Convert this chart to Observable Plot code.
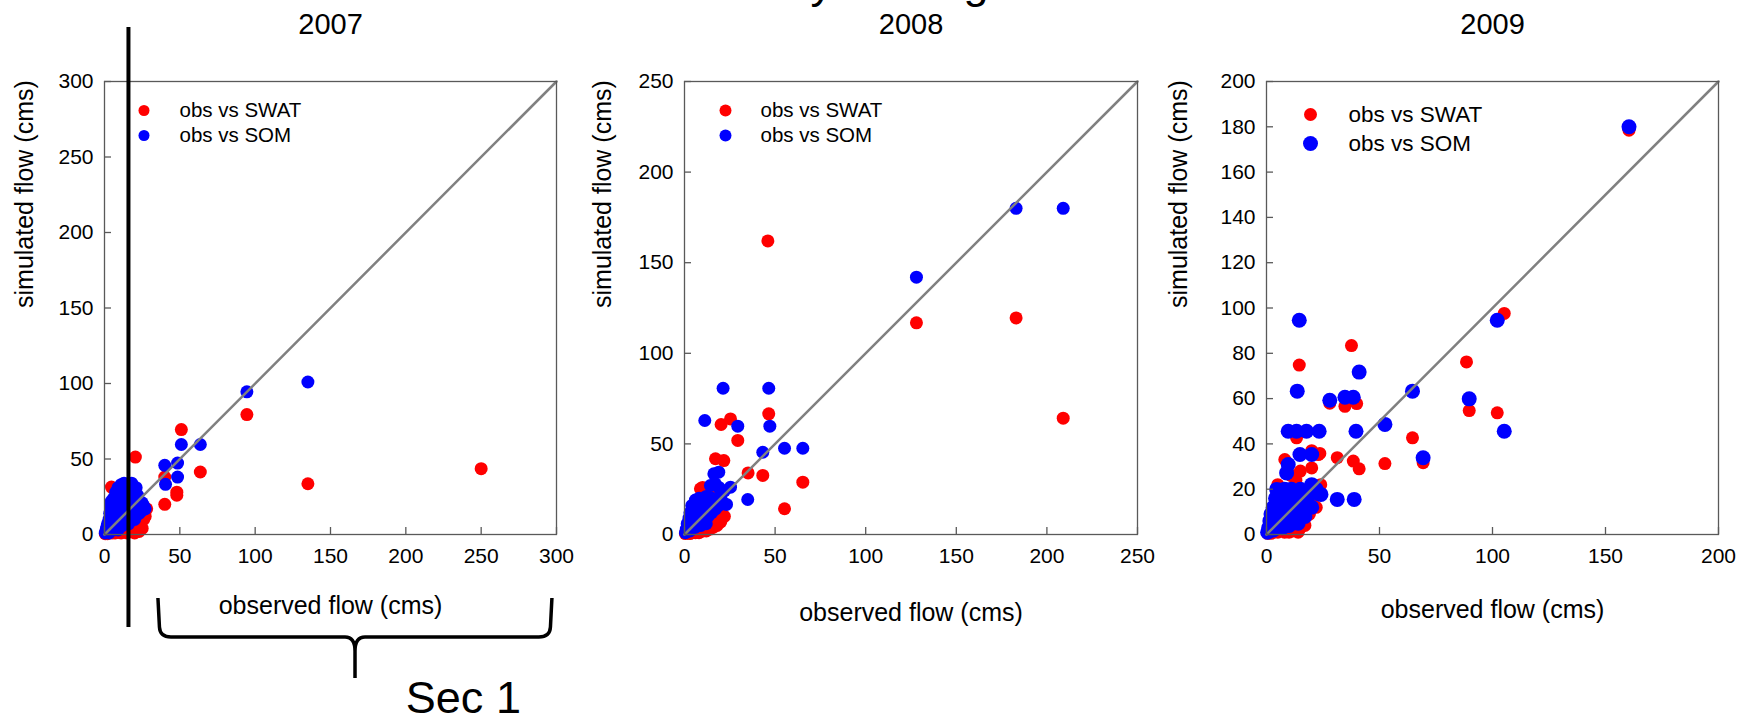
<!DOCTYPE html>
<html>
<head>
<meta charset="utf-8">
<script src="https://cdn.jsdelivr.net/npm/d3@7"></script>
<script src="https://cdn.jsdelivr.net/npm/@observablehq/plot@0.6"></script>
<style>
  html, body { margin: 0; padding: 0; background: #fff; }
  #page { position: relative; width: 1750px; height: 715px; overflow: hidden; background: #fff; }
  #page svg { position: absolute; top: 0; overflow: visible; }
</style>
</head>
<body>
<div id="page"></div>
<script>
// ---------------- data ----------------
const panelTitles = ["2007", "2008", "2009"];
const axisMax = [300, 250, 200];
const xTicks2007 = [0, 50, 100, 150, 200, 250, 300];
const yTicks2007 = [0, 50, 100, 150, 200, 250, 300];
const xTicks2008 = [0, 50, 100, 150, 200, 250];
const yTicks2008 = [0, 50, 100, 150, 200, 250];
const xTicks2009 = [0, 50, 100, 150, 200];
const yTicks2009 = [0, 20, 40, 60, 80, 100, 120, 140, 160, 180, 200];
const seriesNames = ["obs vs SWAT", "obs vs SOM"];
const seriesColors = ["#ff0000", "#0000ff"];
const xLabel = "observed flow (cms)";
const yLabel = "simulated flow (cms)";
const sectionLabel = "Sec 1";
const cutTitleGlyphs = ["y", "g"];

// [observed, simulated]
const swat2007 = [
  [250, 43.6], [135, 33.6], [94.5, 79.4], [51, 69.5], [63.6, 41.4], [20.5, 51.3], [40, 38], [48, 28], [48, 26],
  [40, 20], [4.6, 31.4],
  [0.5, 0.5], [1, 1], [2, 0.5], [2, 3], [3, 1.5], [4, 2], [5, 1], [5, 4], [6, 2.5], [7, 1], [7, 5], [8, 3],
  [9, 1.5], [9, 6], [10, 3], [11, 1], [11, 7], [12, 4], [13, 2], [13, 9], [14, 5], [15, 1], [15, 11], [16, 3],
  [17, 6], [18, 2], [18, 13], [19, 4], [20, 8], [20, 1], [21, 3], [22, 10], [22, 5], [23, 2], [24, 13], [24, 7],
  [25, 4], [26, 10], [26, 15], [27, 12], [28, 17], [19, 16], [14, 18], [10, 14], [8, 10]
];
const som2007 = [
  [135, 101], [94.5, 94.5], [51, 59.6], [63.6, 59.6], [40, 45.8], [48.5, 47.3], [48.5, 38], [40.5, 33.2],
  [0.5, 1], [1, 3], [1.5, 5], [2, 7], [2, 2], [3, 4], [3, 10], [3.5, 14], [4, 8], [4, 19], [4.5, 22], [5, 6],
  [5, 12], [5.5, 16], [6, 3], [6, 24], [7, 9], [7, 20], [7.5, 28], [8, 13], [8, 5], [9, 17], [9, 31], [10, 8],
  [10, 24], [11, 12], [11, 33], [12, 20], [12, 28], [13, 16], [13, 34], [14, 9], [14, 24], [15, 19], [15, 30],
  [16, 13], [16, 33], [17, 22], [17, 27], [18, 16], [18, 34], [19, 20], [19, 29], [20, 15], [20, 24], [21, 31],
  [22, 19], [22, 26], [23, 14], [23, 22], [24, 18], [25, 21], [25, 16], [26, 19], [27, 17], [12, 6], [16, 7],
  [20, 10], [9, 3], [3, 1]
];
const swat2008 = [
  [209, 64.2], [183, 119.5], [128, 116.8], [46, 162], [46.5, 66.6], [20.2, 60.7], [25.4, 63.8], [29.4, 51.9],
  [35.1, 34], [43.2, 32.6], [65.3, 28.9], [55.2, 14.2], [17.1, 41.8], [21.7, 40.8], [8.8, 25.2], [10, 26],
  [0.5, 0.5], [1, 1.5], [2, 1], [3, 2], [3, 0.5], [4, 3], [5, 1.5], [6, 4], [6, 1], [7, 2.5], [8, 5], [8, 1],
  [9, 3], [10, 6], [10, 2], [11, 4], [12, 8], [12, 2], [13, 5], [14, 9], [14, 3], [15, 6], [16, 11], [16, 4],
  [17, 8], [18, 12], [18, 5], [19, 9], [20, 14], [20, 7], [21, 11], [22, 10], [9, 14], [11, 18], [13, 22],
  [7, 12], [5, 8], [15, 25], [18, 25]
];
const som2008 = [
  [209, 180], [183, 180], [128, 142], [21.3, 80.7], [46.5, 80.7], [11.2, 62.9], [29.4, 59.8], [47.1, 59.8],
  [43.2, 45.4], [55.2, 47.6], [65.3, 47.6], [34.9, 19.3], [18.9, 34.4], [16.2, 33.5], [25.4, 26.1], [14.3, 27],
  [23.2, 16.6],
  [0.5, 1], [1, 3], [1.5, 6], [2, 2], [2.5, 9], [3, 5], [3, 12], [4, 8], [4, 16], [5, 4], [5, 11], [6, 14],
  [6, 19], [7, 7], [7, 17], [8, 10], [8, 20], [9, 13], [9, 18], [10, 8], [10, 16], [11, 19], [11, 12], [12, 15],
  [12, 21], [13, 10], [13, 18], [14, 14], [15, 20], [15, 12], [16, 17], [17, 14], [18, 19], [19, 16], [20, 22],
  [21, 18], [22, 24], [17, 28], [19, 26], [3, 2], [6, 4], [9, 5], [12, 6]
];
const swat2009 = [
  [160.4, 178.5], [37.6, 83.4], [14.5, 74.8], [34.7, 56.6], [39.9, 57.8], [28, 58], [88.5, 76.2], [89.7, 54.7],
  [105.2, 97.6], [102.1, 53.7], [64.6, 42.7], [69.3, 31.7], [52.4, 31.3], [38.4, 32.4], [41, 29], [13.3, 42.7],
  [23.6, 35.8], [20, 37], [31.3, 33.9], [8.1, 33.1], [20, 29.4], [17.7, 8.1], [22.9, 35.3], [11.4, 1.5],
  [0.5, 0.5], [1, 1], [2, 0.5], [2, 2], [3, 1], [4, 3], [5, 1], [5, 5], [6, 2], [7, 4], [8, 1], [8, 7], [9, 3],
  [10, 5], [10, 1], [11, 8], [11, 2], [12, 4], [13, 10], [14, 6], [14, 1], [15, 3], [16, 12], [16, 7], [17, 4],
  [18, 14], [19, 9], [20, 16], [21, 19], [22, 12], [24, 22], [13, 24], [11, 26], [15, 28], [7, 14], [5, 22], [9, 20]
];
const som2009 = [
  [160.4, 180], [14.5, 94.6], [41, 71.7], [13.6, 63.3], [28, 59.3], [34.7, 60.6], [38.4, 60.6], [64.6, 63.3],
  [89.7, 59.9], [102.1, 94.6], [105.2, 45.6], [52.4, 48.6], [69.3, 33.9], [39.6, 45.6], [9.6, 45.6], [13.3, 45.6],
  [17.7, 45.6], [23.3, 45.6], [14.8, 35.3], [20, 35.3], [9.6, 30.9], [8.9, 27.2], [24.1, 17.7], [31.3, 15.5],
  [38.8, 15.5],
  [0.5, 1], [1, 3], [1.5, 6], [2, 2], [2, 9], [3, 5], [3, 12], [4, 8], [4, 16], [4.5, 19.9], [5, 4], [5, 11],
  [6, 14], [6, 19.5], [7, 7], [7, 17], [8, 10], [8, 20], [9, 13], [9, 19.5], [10, 8], [10, 16], [11, 12], [11, 20],
  [12, 15], [12, 6], [13, 10], [13, 18], [14, 14], [15, 11], [15, 20], [16, 17], [17, 13], [18, 16], [19, 19],
  [20, 12], [20, 22], [22, 20], [23, 18], [3, 2], [7, 3], [10, 4], [14, 5], [17, 8]
];

// annotations (in 2007 panel data units)
const markerLineX = 15.9;
const markerLineY = [335.8, -61.6];
const braceX = [35.8, 297.3];
const braceTipX = 166.6;
const braceY = [-42.4, -68.2, -95.4];
const sectionLabelAt = [200, -118.5];

// ---------------- drawing ----------------
const FONT = "'Liberation Sans', Arial, Helvetica, sans-serif";
const FRAME = "#595959";
const H = 715, TOP = 81, BOTTOM = 181;

const panels = [
  {title: panelTitles[0], max: axisMax[0], xTicks: xTicks2007, yTicks: yTicks2007, swat: swat2007, som: som2007,
   left: 0, width: 580, mL: 104, mR: 24, rRed: 6.5, rBlue: 6.5, xLabBase: 613, yLabDx: -72,
   legDotDx: 39.5, legTextDx: 75, legDy: [29, 54], legR: [5.5, 5.5], legFont: 20.5},
  {title: panelTitles[1], max: axisMax[1], xTicks: xTicks2008, yTicks: yTicks2008, swat: swat2008, som: som2008,
   left: 580, width: 580, mL: 104, mR: 23, rRed: 6.5, rBlue: 6.5, xLabBase: 620, yLabDx: -74,
   legDotDx: 41, legTextDx: 76, legDy: [29, 54], legR: [6, 6], legFont: 20.5},
  {title: panelTitles[2], max: axisMax[2], xTicks: xTicks2009, yTicks: yTicks2009, swat: swat2009, som: som2009,
   left: 1160, width: 590, mL: 106, mR: 32, rRed: 6.5, rBlue: 7.5, xLabBase: 617, yLabDx: -80,
   legDotDx: 44, legTextDx: 82, legDy: [33, 62], legR: [6.5, 7.5], legFont: 22.5}
];

function makePanel(p, i) {
  const innerW = p.width - p.mL - p.mR;
  const innerH = H - TOP - BOTTOM;
  const marks = [
    Plot.dot(p.swat, {x: d => d[0], y: d => d[1], r: p.rRed, fill: seriesColors[0]}),
    Plot.dot(p.som, {x: d => d[0], y: d => d[1], r: p.rBlue, fill: seriesColors[1]}),
    Plot.line([0, p.max], {x: d => d, y: d => d, stroke: "#808080", strokeWidth: 2.5}),
    Plot.frame({stroke: FRAME, strokeWidth: 1.3}),
    Plot.tickX(p.xTicks, {x: d => d, insetTop: innerH - 7, stroke: FRAME, strokeWidth: 1.3}),
    Plot.tickY(p.yTicks, {y: d => d, insetRight: innerW - 7, stroke: FRAME, strokeWidth: 1.3}),
    Plot.axisX({ticks: p.xTicks, tickSize: 0, tickPadding: 14, fontSize: 21, label: null, fill: "#000"}),
    Plot.axisY({ticks: p.yTicks, tickSize: 0, tickPadding: 11, fontSize: 21, label: null, fill: "#000"}),
    Plot.text([p.title], {text: d => d, frameAnchor: "top", dy: 33 - TOP, lineAnchor: "bottom", fontSize: 29, fill: "#000"}),
    Plot.text([xLabel], {text: d => d, frameAnchor: "bottom", dy: p.xLabBase - (H - BOTTOM), lineAnchor: "bottom", fontSize: 25, fill: "#000"}),
    Plot.text([yLabel], {text: d => d, frameAnchor: "left", dx: p.yLabDx, rotate: -90, lineAnchor: "bottom", fontSize: 25, fill: "#000"}),
    // legend
    Plot.dot([seriesNames[0]], {frameAnchor: "top-left", dx: p.legDotDx, dy: p.legDy[0], r: p.legR[0], fill: seriesColors[0]}),
    Plot.dot([seriesNames[1]], {frameAnchor: "top-left", dx: p.legDotDx, dy: p.legDy[1], r: p.legR[1], fill: seriesColors[1]}),
    Plot.text([seriesNames[0]], {text: d => d, frameAnchor: "top-left", dx: p.legTextDx, dy: p.legDy[0], textAnchor: "start", lineAnchor: "middle", fontSize: p.legFont, fill: "#000"}),
    Plot.text([seriesNames[1]], {text: d => d, frameAnchor: "top-left", dx: p.legTextDx, dy: p.legDy[1], textAnchor: "start", lineAnchor: "middle", fontSize: p.legFont, fill: "#000"})
  ];
  if (i === 0) {
    marks.push(Plot.ruleX([markerLineX], {x: d => d, y1: markerLineY[0], y2: markerLineY[1], stroke: "#000", strokeWidth: 4}));
    marks.push(Plot.text([sectionLabel], {text: d => d, x: sectionLabelAt[0], y: sectionLabelAt[1], textAnchor: "start", lineAnchor: "bottom", fontSize: 45, fill: "#000"}));
  }
  if (i === 1) {
    marks.push(Plot.text([cutTitleGlyphs[0]], {text: d => d, frameAnchor: "top-left", dx: 126, dy: -2.5 - TOP, textAnchor: "start", lineAnchor: "bottom", fontSize: 45, fill: "#000"}));
    marks.push(Plot.text([cutTitleGlyphs[1]], {text: d => d, frameAnchor: "top-left", dx: 279, dy: -2.5 - TOP, textAnchor: "start", lineAnchor: "bottom", fontSize: 45, fill: "#000"}));
  }
  return Plot.plot({
    width: p.width,
    height: H,
    marginLeft: p.mL,
    marginRight: p.mR,
    marginTop: TOP,
    marginBottom: BOTTOM,
    x: {domain: [0, p.max]},
    y: {domain: [0, p.max]},
    style: {fontFamily: FONT, fontSize: "21px", overflow: "visible", background: "transparent", color: "#000"},
    marks
  });
}

const page = document.getElementById("page");
const svgs = panels.map((p, i) => {
  const svg = makePanel(p, i);
  svg.style.left = p.left + "px";
  svg.style.top = "0px";
  page.appendChild(svg);
  return svg;
});

// brace under the 2007 panel, placed through that panel's scales
(function drawBrace() {
  const svg = svgs[0];
  const sx = svg.scale("x"), sy = svg.scale("y");
  const xL = sx.apply(braceX[0]), xR = sx.apply(braceX[1]), xM = sx.apply(braceTipX);
  const yT = sy.apply(braceY[0]), yB = sy.apply(braceY[1]), yTip = sy.apply(braceY[2]);
  const r = 10;
  const p = d3.path();
  p.moveTo(xL, yT);
  p.lineTo(xL + 1.5, yB - r);
  p.quadraticCurveTo(xL + 2, yB, xL + r + 3, yB);
  p.lineTo(xM - r, yB);
  p.quadraticCurveTo(xM, yB, xM, yB + r + 4);
  p.lineTo(xM, yTip);
  p.moveTo(xM, yB + r + 4);
  p.quadraticCurveTo(xM, yB, xM + r, yB);
  p.lineTo(xR - r - 3, yB);
  p.quadraticCurveTo(xR - 2, yB, xR - 1.5, yB - r);
  p.lineTo(xR, yT);
  d3.select(svg).append("path")
    .attr("d", p.toString())
    .attr("fill", "none")
    .attr("stroke", "#000")
    .attr("stroke-width", 3.5)
    .attr("stroke-linejoin", "round");
})();
</script>
</body>
</html>
